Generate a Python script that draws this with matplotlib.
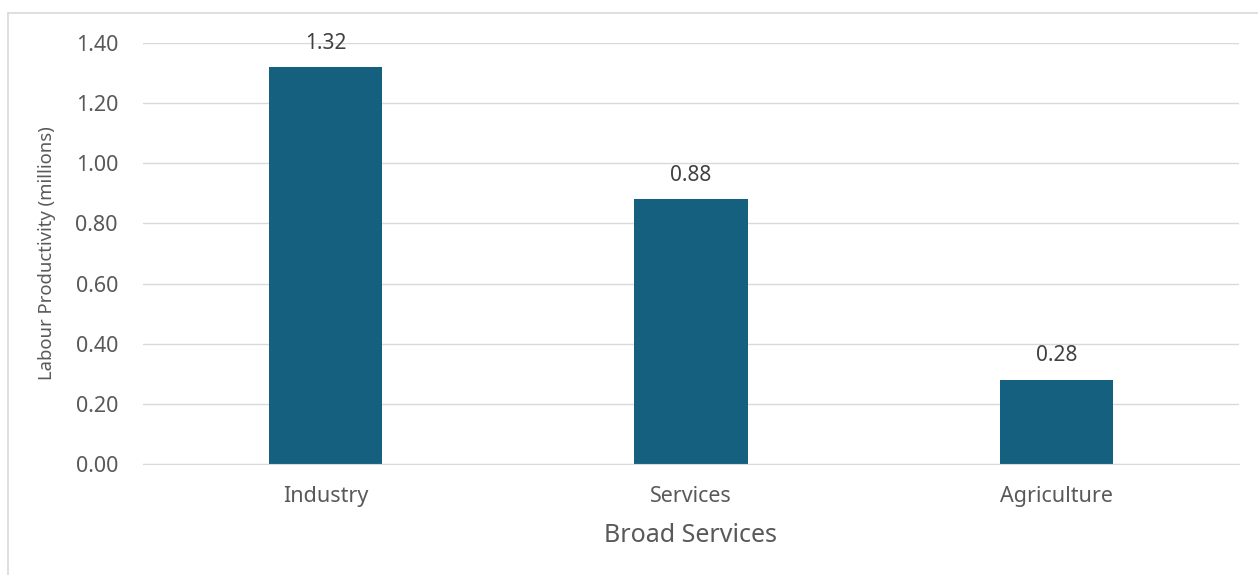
import matplotlib
matplotlib.use("Agg")
import matplotlib.pyplot as plt
from matplotlib.lines import Line2D

plt.rcParams['font.family'] = ['Noto Sans', 'DejaVu Sans']

categories = ["Industry", "Services", "Agriculture"]
productivity = [1.32, 0.88, 0.28]
yticks = [0.0, 0.2, 0.4, 0.6, 0.8, 1.0, 1.2, 1.4]

bar_color = "#16607f"
text_color = "#595959"
grid_color = "#d9d9d9"

fig = plt.figure(figsize=(12.58, 5.75), dpi=100)
ax = fig.add_axes([143/1258, 1 - 464/575, (1239 - 143)/1258, (464 - 43)/575])

x = range(len(categories))
bars = ax.bar(x, productivity, width=0.31, color=bar_color, zorder=3)
for b, v in zip(bars, productivity):
    ax.text(b.get_x() + b.get_width()/2, v + 0.045, f"{v:.2f}", ha="center", va="bottom",
            fontsize=15, color="#404040")

ax.set_xlim(-0.5, 2.5)
ax.set_ylim(0, 1.4)
ax.set_yticks(yticks)
ax.set_yticklabels([f"{t:.2f}" for t in yticks])
ax.set_xticks(list(x))
ax.set_xticklabels(categories)
ax.tick_params(axis="y", length=0, pad=18, labelsize=15.5, labelcolor=text_color)
ax.tick_params(axis="x", length=0, pad=16, labelsize=15.5, labelcolor=text_color)
ax.grid(axis="y", color=grid_color, linewidth=1, zorder=0)
for s in ["top", "right", "left"]:
    ax.spines[s].set_visible(False)
ax.spines["bottom"].set_color(grid_color)
ax.spines["bottom"].set_zorder(4)

ax.set_xlabel("Broad Services", fontsize=18, color=text_color, labelpad=11)
ax.set_ylabel("Labour Productivity (millions)", fontsize=13.3, color=text_color, labelpad=14)

# chart frame
fig.add_artist(Line2D([8/1258, 8/1258], [0, 1 - 13/575], transform=fig.transFigure,
                      color=grid_color, linewidth=1.2))
fig.add_artist(Line2D([8/1258, 1], [1 - 13/575, 1 - 13/575], transform=fig.transFigure,
                      color=grid_color, linewidth=1.2))

fig.savefig("out.png", dpi=100)
